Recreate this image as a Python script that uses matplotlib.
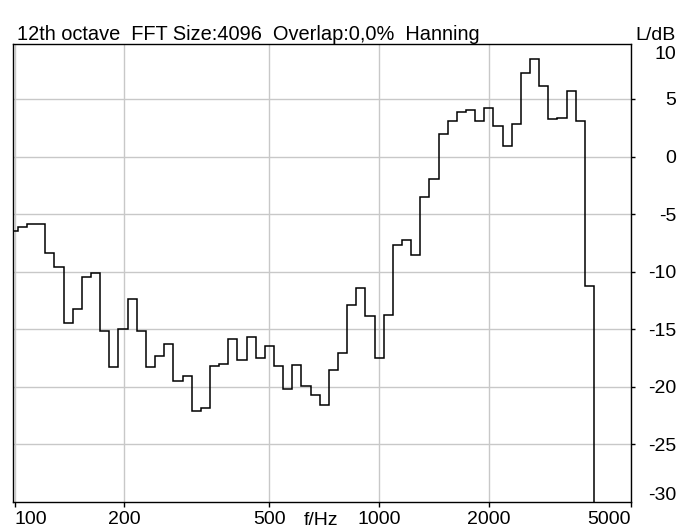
import numpy as np
import matplotlib.pyplot as plt
from matplotlib import transforms

plt.rcParams['font.family'] = ['Liberation Sans', 'DejaVu Sans']

# 12th-octave band numbers (relative to 1000 Hz) and measured levels in dB
band_index = list(range(-40, 24))
levels_db = [
    -6.51, -6.08, -5.85, -5.85, -8.39, -9.60, -14.46, -13.22, -10.42, -10.12,
    -15.19, -18.31, -14.98, -12.38, -15.19, -18.31, -17.35, -16.28, -19.46, -19.03,
    -22.09, -21.83, -18.22, -18.03, -15.86, -17.64, -15.71, -17.49, -16.43, -18.22,
    -20.16, -18.07, -19.90, -20.74, -21.54, -18.51, -17.06, -12.91, -11.42, -13.89,
    -17.49, -13.80, -7.67, -7.23, -8.59, -3.48, -1.94, 1.96, 3.06, 3.89,
    4.04, 3.09, 4.19, 2.65, 0.95, 2.83, 7.22, 8.49, 6.15, 3.24,
    3.35, 5.72, 3.09, -11.28,
]

x_ticks = [100, 200, 500, 1000, 2000]
y_ticks = [-25, -20, -15, -10, -5, 0, 5]
title = "12th octave  FFT Size:4096  Overlap:0,0%  Hanning"

FS = 14
FS_TITLE = 14.4

n = np.array(band_index)
edges = 1000.0 * 2.0 ** (np.append(n - 0.5, n[-1] + 0.5) / 12.0)

fig = plt.figure(figsize=(6.78, 5.29), dpi=100)
ax = fig.add_axes([13 / 678, 1 - 502 / 529, (631 - 13) / 678, (502 - 44) / 529])

ax.stairs(levels_db, edges, baseline=-80, color='black', linewidth=1.1, zorder=3)

ax.set_xscale('log')
ax.set_xlim(99, 4910)
ax.set_ylim(-30, 9.77)

ax.set_xticks(x_ticks + [4910])
ax.set_xticklabels([str(t) for t in x_ticks] + ['5000'])
ax.xaxis.set_minor_locator(plt.NullLocator())
ax.set_yticks(y_ticks)
ax.set_yticklabels([str(t) for t in y_ticks])

ax.grid(True, color='#c8c8c8', linewidth=1.0)
ax.set_axisbelow(True)

for sp in ax.spines.values():
    sp.set_color('black')
    sp.set_linewidth(1.0)

ax.tick_params(axis='x', direction='out', length=3.6, width=1.0, pad=3.0,
               labelsize=FS, colors='black')
ax.tick_params(axis='y', direction='out', length=3.0, width=1.0, left=False,
               labelleft=False, right=True, labelright=True, pad=29.5,
               labelsize=FS, colors='black')

xl = ax.get_xticklabels()
xl[0].set_horizontalalignment('left')
xl[-1].set_horizontalalignment('right')
for lbl in ax.get_yticklabels():
    lbl.set_horizontalalignment('right')

# end labels of the y axis, pushed inside the frame like the original
ytrans = transforms.blended_transform_factory(ax.transAxes, ax.transData)
ax.text(1.0728, 8.9, '10', transform=ytrans, ha='right', va='center', fontsize=FS)
ax.text(1.0728, -29.4, '-30', transform=ytrans, ha='right', va='center', fontsize=FS)

xtrans = transforms.blended_transform_factory(ax.transData, ax.transAxes)
ax.text(694, -0.0218, 'f/Hz', transform=xtrans, ha='center', va='top', fontsize=FS)

fig.text(17 / 678, 1 - 40 / 529, title, ha='left', va='baseline', fontsize=FS_TITLE)
fig.text(676 / 678, 1 - 40 / 529, 'L/dB', ha='right', va='baseline', fontsize=FS)

fig.savefig('out.png', dpi=100)
